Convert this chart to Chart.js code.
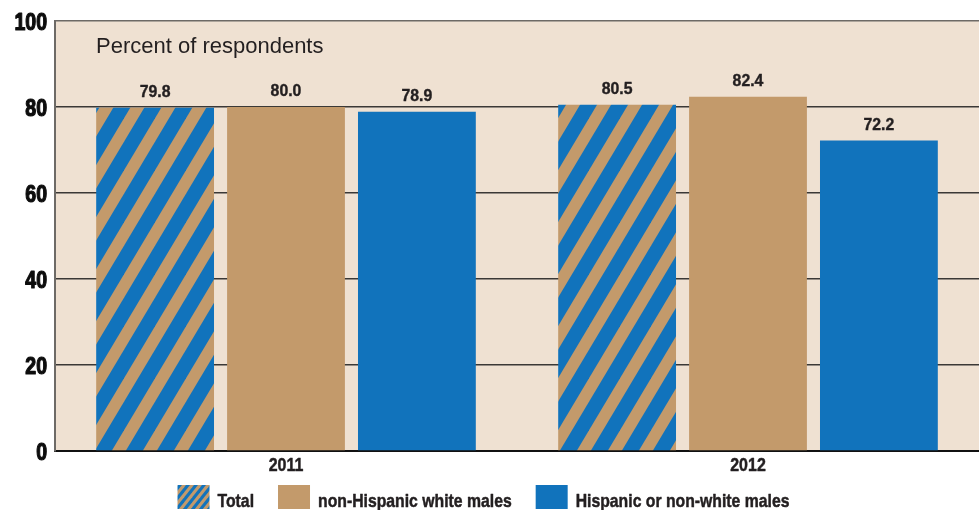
<!DOCTYPE html>
<html>
<head>
<meta charset="utf-8">
<script src="https://cdn.jsdelivr.net/npm/chart.js@4"></script>
<style>
  html, body { margin: 0; padding: 0; background: #ffffff; }
  #wrap { width: 979px; height: 510px; position: relative; }
</style>
</head>
<body>
<div id="wrap"><canvas id="c" width="979" height="510"></canvas></div>
<script>
const categories = ['2011', '2012'];
const totalValues = [79.8, 80.5];
const whiteMaleValues = [80.0, 82.4];
const hispanicValues = [78.9, 72.2];
const seriesNames = ['Total', 'non-Hispanic white males', 'Hispanic or non-white males'];
const yTickValues = [0, 20, 40, 60, 80, 100];
const unitNote = 'Percent of respondents';

const TAN = '#C39A6B';
const BLUE = '#1173BC';
const BG = '#EFE1D2';
const INK = '#231f20';
const SANS = '"Liberation Sans", Arial, Helvetica, sans-serif';

function makeStripePattern(ph, pv, w) {
  const t = document.createElement('canvas');
  t.width = ph; t.height = pv;
  const g = t.getContext('2d');
  g.fillStyle = TAN;
  g.fillRect(0, 0, ph, pv);
  g.fillStyle = BLUE;
  for (let k = -1; k <= 1; k++) {
    g.beginPath();
    g.moveTo(k * ph + ph - w / 2, 0);
    g.lineTo(k * ph + ph + w / 2, 0);
    g.lineTo(k * ph + w / 2, pv);
    g.lineTo(k * ph - w / 2, pv);
    g.closePath();
    g.fill();
  }
  return document.getElementById('c').getContext('2d').createPattern(t, 'repeat');
}
const stripes = makeStripePattern(31, 52, 17);
const legendStripes = makeStripePattern(8, 10, 4);

function condensedText(ctx, text, x, y, font, sx, align, baseline, stroke) {
  ctx.save();
  ctx.font = font;
  ctx.textAlign = align;
  ctx.textBaseline = baseline;
  ctx.translate(x, y);
  ctx.scale(sx, 1);
  ctx.fillText(text, 0, 0);
  if (stroke) {
    ctx.strokeStyle = ctx.fillStyle;
    ctx.lineWidth = stroke;
    ctx.lineJoin = 'round';
    ctx.strokeText(text, 0, 0);
  }
  ctx.restore();
}
function condensedWidth(ctx, text, font, sx) {
  ctx.save();
  ctx.font = font;
  const w = ctx.measureText(text).width * sx;
  ctx.restore();
  return w;
}

const bgPlugin = {
  id: 'bgPlugin',
  beforeDraw(chart) {
    const { ctx, chartArea: a } = chart;
    ctx.save();
    ctx.fillStyle = BG;
    ctx.fillRect(a.left, a.top, a.right - a.left, a.bottom - a.top);
    ctx.restore();
  }
};

const textPlugin = {
  id: 'textPlugin',
  afterDraw(chart) {
    const { ctx, chartArea: a } = chart;
    const xs = chart.scales.x, ys = chart.scales.y;
    ctx.save();
    ctx.fillStyle = INK;

    // value labels above bars
    chart.data.datasets.forEach((ds, i) => {
      const meta = chart.getDatasetMeta(i);
      meta.data.forEach((el, j) => {
        condensedText(ctx, ds.data[j].toFixed(1), el.x, el.y - 11, 'bold 17px ' + SANS, 0.93, 'center', 'alphabetic', 0.4);
      });
    });

    // unit note
    ctx.font = '22px ' + SANS;
    ctx.textAlign = 'left';
    ctx.textBaseline = 'alphabetic';
    ctx.fillText(unitNote, a.left + 41, a.top + 32);

    // y tick labels
    ctx.fillStyle = '#0d0d0d';
    ys.ticks.forEach(t => {
      const py = ys.getPixelForValue(t.value);
      condensedText(ctx, String(t.value), a.left - 8, py + 9, 'bold 23px ' + SANS, 0.85, 'right', 'alphabetic', 1.2);
    });

    // x category labels
    ctx.fillStyle = INK;
    categories.forEach((c, i) => {
      condensedText(ctx, c, xs.getPixelForValue(i), a.bottom + 20, 'bold 19px ' + SANS, 0.84, 'center', 'alphabetic', 0.5);
    });

    // legend
    const lf = 'bold 19px ' + SANS, lsx = 0.83;
    const boxW = 32, boxH = 24, gapBT = 8, gapItem = 24;
    const fills = [legendStripes, TAN, BLUE];
    let total = 0;
    seriesNames.forEach((n, i) => {
      total += boxW + gapBT + condensedWidth(ctx, n, lf, lsx) + (i < seriesNames.length - 1 ? gapItem : 0);
    });
    let x = (chart.width - total) / 2 - 6;
    const by = 485;
    seriesNames.forEach((n, i) => {
      ctx.fillStyle = fills[i];
      ctx.fillRect(x, by, boxW, boxH);
      x += boxW + gapBT;
      ctx.fillStyle = INK;
      condensedText(ctx, n, x, by + 22, lf, lsx, 'left', 'alphabetic', 0.5);
      x += condensedWidth(ctx, n, lf, lsx) + gapItem;
    });
    ctx.restore();
  }
};

new Chart(document.getElementById('c'), {
  type: 'bar',
  data: {
    labels: categories,
    datasets: [
      { label: seriesNames[0], data: totalValues, backgroundColor: stripes, borderWidth: 0 },
      { label: seriesNames[1], data: whiteMaleValues, backgroundColor: TAN, borderWidth: 0 },
      { label: seriesNames[2], data: hispanicValues, backgroundColor: BLUE, borderWidth: 0 }
    ]
  },
  options: {
    responsive: false,
    animation: false,
    devicePixelRatio: 1,
    layout: { padding: { top: 21, right: 0, left: 0, bottom: 31 } },
    categoryPercentage: 0.85,
    barPercentage: 0.9,
    plugins: {
      tooltip: { enabled: false },
      legend: { display: false }
    },
    scales: {
      x: {
        grid: { display: false },
        border: { display: true, color: '#111', width: 2 },
        ticks: { display: false },
        afterFit(s) { s.height = 28; }
      },
      y: {
        min: 0, max: 100,
        afterBuildTicks(s) { s.ticks = yTickValues.map(v => ({ value: v })); },
        grid: {
          drawTicks: false,
          color: ctx => (ctx.tick && ctx.tick.value === 100) ? '#6d6a66' : '#3a3836',
          lineWidth: 1.5
        },
        border: { display: true, color: '#6d6a66', width: 2 },
        ticks: { display: false },
        afterFit(s) { s.width = 55; }
      }
    }
  },
  plugins: [bgPlugin, textPlugin]
});
</script>
</body>
</html>
